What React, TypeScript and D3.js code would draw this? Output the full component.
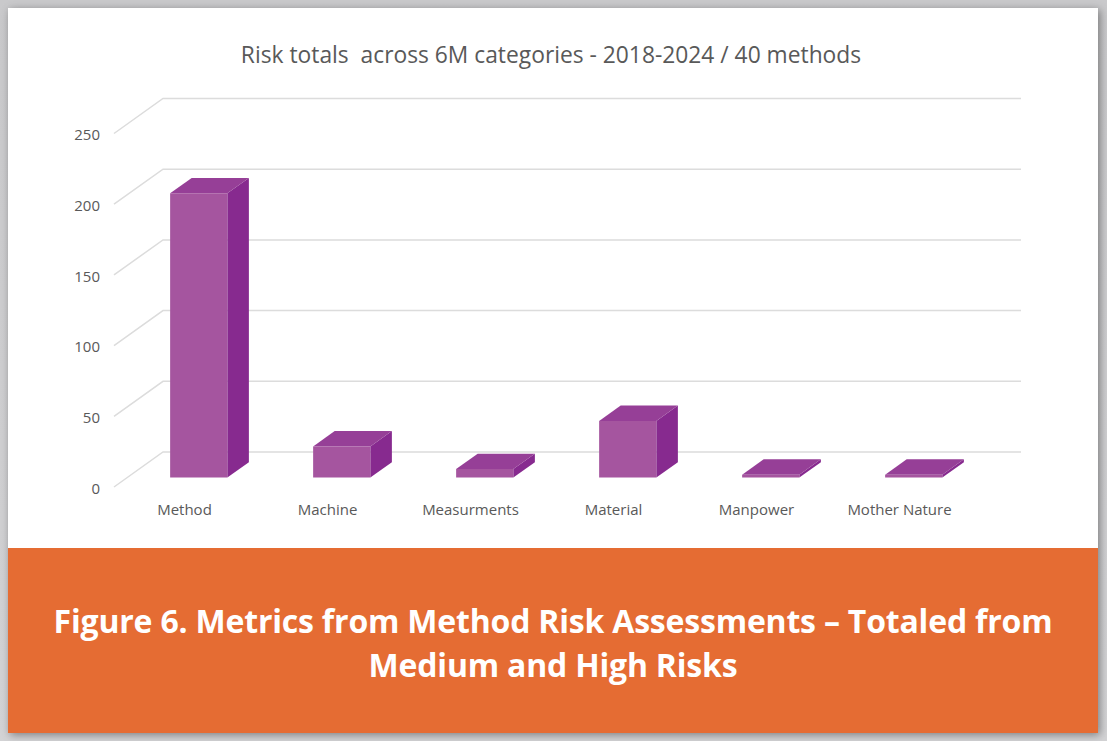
import * as d3 from "d3";

const categories = ["Method", "Machine", "Measurments", "Material", "Manpower", "Mother Nature"];
const riskTotals = [201, 22, 6, 40, 2, 2];
const yTicks = [0, 50, 100, 150, 200, 250];

const chartTitle = "Risk totals\u00a0 across 6M categories - 2018-2024 / 40 methods";
const captionLines = [
  "Figure 6. Metrics from Method Risk Assessments \u2013 Totaled from",
  "Medium and High Risks",
];

const W = 1107;
const H = 741;

// oblique 3D: depth vector for z = 0..1 (front floor edge -> back wall)
const depthX = 49;
const depthY = -35;
const zFront = 0.27;
const zBack = 0.71;

function App() {
  const x = d3.scaleBand(categories, [114, 972]);
  const y = d3.scaleLinear([0, 250], [487, 133.5]);

  const P = (px: number, v: number, z: number) => [px + z * depthX, y(v) + z * depthY];
  const pts = (arr: number[][]) => arr.map((p) => p.join(",")).join(" ");

  const barW = x.bandwidth() * 0.4;
  const [x0r, x1r] = x.range();

  return (
    <div style={{ position: "absolute", left: 0, top: 0 }}>
      <svg width={W} height={H} style={{ display: "block" }}>
        <defs>
          <filter id="shadow" x="-5%" y="-5%" width="110%" height="110%">
            <feDropShadow dx="2" dy="2" stdDeviation="4" floodColor="#000" floodOpacity="0.4" />
          </filter>
          <linearGradient id="bg" x1="0" x2="0" y1="0" y2="1">
            <stop offset="0" stopColor="#c9c9cb" />
            <stop offset="1" stopColor="#d3d3d5" />
          </linearGradient>
        </defs>
        <rect width={W} height={H} fill="url(#bg)" />

        {/* card */}
        <g filter="url(#shadow)">
          <rect x={8} y={8} width={1090} height={725} fill="#fff" />
        </g>
        <rect x={8} y={548} width={1090} height={185} fill="#e56c33" />

        <text
          x={551}
          y={63}
          textAnchor="middle"
          fontFamily="'Open Sans', sans-serif"
          fontSize={22.8}
          fill="#595959"
        >
          {chartTitle}
        </text>

        {/* gridlines: left wall diagonal + back wall */}
        <g stroke="#dcdcdc" strokeWidth={1.5} fill="none">
          {yTicks.map((t) => {
            const a = P(x0r, t, 0);
            const b = P(x0r, t, 1);
            const c = P(x1r, t, 1);
            return <polyline key={t} points={pts([a, b, c])} />;
          })}
        </g>

        {/* y tick labels */}
        <g fontFamily="'Open Sans', sans-serif" fontSize={15} fill="#595959" textAnchor="end">
          {yTicks.map((t) => (
            <text key={t} x={100} y={y(t) + 1.5} dy="0.35em">
              {t}
            </text>
          ))}
        </g>

        {/* bars */}
        {categories.map((c, i) => {
          const v = riskTotals[i];
          const bx0 = (x(c) as number) + (x.bandwidth() - barW) / 2;
          const bx1 = bx0 + barW;
          const front = [P(bx0, 0, zFront), P(bx1, 0, zFront), P(bx1, v, zFront), P(bx0, v, zFront)];
          const top = [P(bx0, v, zFront), P(bx1, v, zFront), P(bx1, v, zBack), P(bx0, v, zBack)];
          const side = [P(bx1, 0, zFront), P(bx1, v, zFront), P(bx1, v, zBack), P(bx1, 0, zBack)];
          return (
            <g key={c}>
              <polygon points={pts(side)} fill="#872a8f" />
              <polygon points={pts(top)} fill="#963f97" />
              <polygon points={pts(front)} fill="#a5559f" />
            </g>
          );
        })}

        {/* category labels */}
        <g fontFamily="'Open Sans', sans-serif" fontSize={15} fill="#595959" textAnchor="middle">
          {categories.map((c) => (
            <text key={c} x={(x(c) as number) + x.bandwidth() / 2 - 1} y={515}>
              {c}
            </text>
          ))}
        </g>

        {/* caption */}
        <g fontFamily="'Open Sans', sans-serif" fontWeight="bold" fontSize={32} fill="#fff" textAnchor="middle">
          {captionLines.map((l, i) => (
            <text key={i} x={553} y={633 + i * 44} letterSpacing={-0.2}>
              {l}
            </text>
          ))}
        </g>
      </svg>
    </div>
  );
}

export default App;
